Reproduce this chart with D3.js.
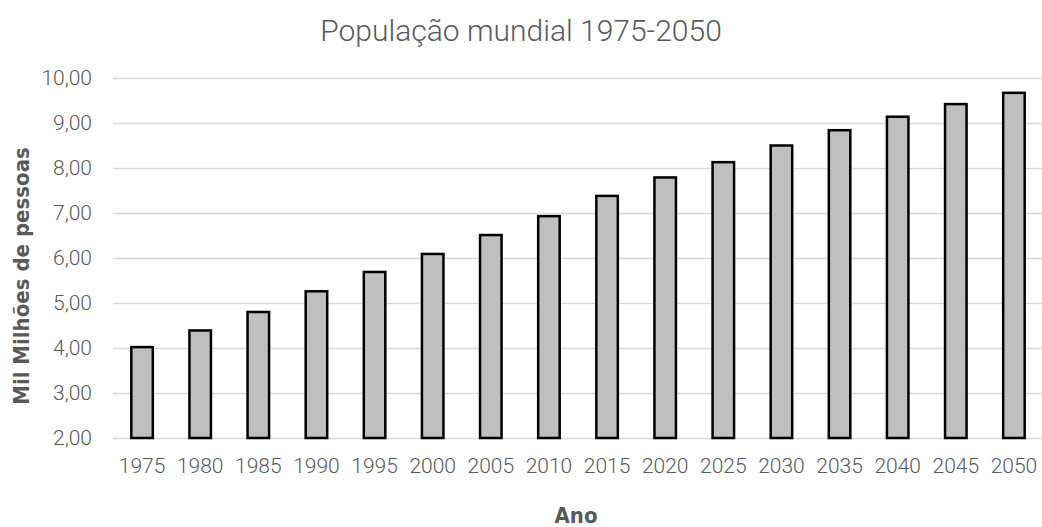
<!DOCTYPE html>
<html>
<head>
<meta charset="utf-8">
<script src="https://cdn.jsdelivr.net/npm/d3@7"></script>
<style>
  html, body { margin: 0; padding: 0; background: #ffffff; }
  svg { display: block; }
</style>
</head>
<body>
<svg id="chart" width="1042" height="527"></svg>
<script>
const years = ["1975","1980","1985","1990","1995","2000","2005","2010","2015","2020","2025","2030","2035","2040","2045","2050"];
const population = [4.02, 4.39, 4.80, 5.26, 5.69, 6.09, 6.51, 6.93, 7.38, 7.79, 8.13, 8.50, 8.84, 9.14, 9.42, 9.67];
const yTicks = [2, 3, 4, 5, 6, 7, 8, 9, 10];
const titleText = "População mundial 1975-2050";
const xTitle = "Ano";
const yTitle = "Mil Milhões de pessoas";

const svg = d3.select("#chart");
const plot = { left: 113, right: 1043, top: 78, bottom: 438 };

const x = d3.scaleBand().domain(years).range([plot.left, plot.right])
  .paddingInner(0.63).paddingOuter(0.315);
const y = d3.scaleLinear().domain([2, 10]).range([plot.bottom, plot.top]);

const fmt = v => d3.format(".2f")(v).replace(".", ",");
const grey = "#595959";
const font = "Roboto, 'Open Sans', sans-serif";
const boldFont = "'Liberation Sans Narrow', 'DejaVu Sans Condensed', 'Liberation Sans', sans-serif";

// gridlines
const yAxis = d3.axisLeft(y).tickValues(yTicks).tickFormat(fmt)
  .tickSize(-(plot.right - plot.left)).tickPadding(21);
const gy = svg.append("g").attr("transform", `translate(${plot.left},0)`).call(yAxis);
gy.select(".domain").remove();
gy.selectAll(".tick line").attr("stroke", "#d9d9d9").attr("stroke-width", 1.5);
gy.selectAll(".tick text").attr("fill", grey).style("font-family", font)
  .style("font-weight", "300").style("font-size", "21px");

// bars
svg.append("g").selectAll("rect").data(years).join("rect")
  .attr("x", d => x(d))
  .attr("width", x.bandwidth())
  .attr("y", (d, i) => y(population[i]))
  .attr("height", (d, i) => y(2) - y(population[i]))
  .attr("fill", "#bfbfbf")
  .attr("stroke", "#000000")
  .attr("stroke-width", 2.5);

// x axis labels
const xAxis = d3.axisBottom(x).tickSize(0).tickPadding(0);
const gx = svg.append("g").attr("transform", `translate(0,${plot.bottom})`).call(xAxis);
gx.select(".domain").remove();
gx.selectAll(".tick text").attr("fill", grey).attr("y", 35).attr("dy", null)
  .style("font-family", font).style("font-weight", "300").style("font-size", "21px");

// title
svg.append("text").attr("x", 521).attr("y", 41).attr("text-anchor", "middle")
  .attr("fill", grey).style("font-family", font).style("font-weight", "300")
  .style("font-size", "30px").text(titleText);

// axis titles
svg.append("text").attr("x", 576).attr("y", 523).attr("text-anchor", "middle")
  .attr("fill", grey).style("font-family", boldFont).style("font-weight", "bold")
  .style("font-size", "22px").text(xTitle);

svg.append("text").attr("transform", `translate(29,276) rotate(-90)`).attr("text-anchor", "middle")
  .attr("fill", grey).style("font-family", boldFont).style("font-weight", "bold")
  .style("font-size", "22px").text(yTitle);
</script>
</body>
</html>
